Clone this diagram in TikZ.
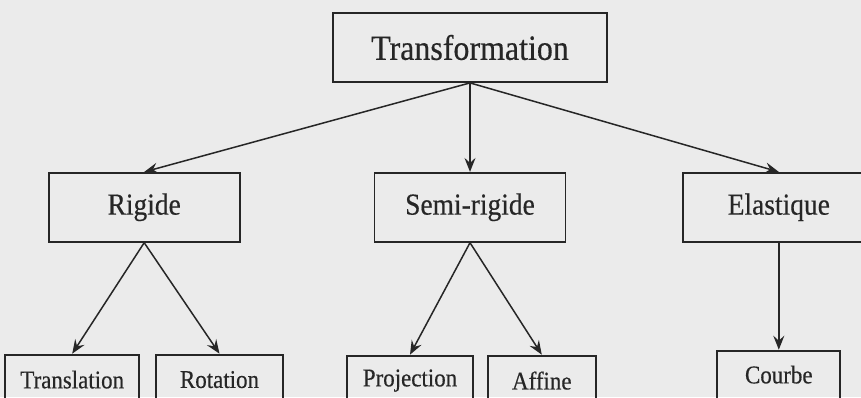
\documentclass[tikz,border=0pt]{standalone}
\usepackage{fontspec}
\setmainfont[FakeStretch=0.9, FakeBold=0.4]{Liberation Serif}
\usetikzlibrary{arrows.meta, positioning}

\begin{document}
\begin{tikzpicture}[
    boite/.style = {rectangle, draw, line width=1.8pt, inner sep=0pt, minimum height=69pt},
    petite/.style = {boite, minimum height=50pt, font=\fontsize{25.5}{28}\selectfont},
    fleche/.style = {black!85, line width=1.5pt, -{Stealth[length=14pt, width=11pt, inset=5pt]}},
    font=\fontsize{30.5}{34}\selectfont,
    text=black!85, draw=black!85
    ]

  \clip (0,0) rectangle (861pt,-397pt);
  \fill[black!8] (0,0) rectangle (861pt,-397pt);

  \node[boite, minimum width=274pt, font=\fontsize{35.5}{40}\selectfont] (trans) at (470pt,-47.5pt) {Transformation} ;

  \node[boite, minimum width=191pt] (semi) [below=89pt of trans] {Semi-rigide} ;
  \node[boite, minimum width=191pt] (rigide) [left=133pt of semi] {Rigide} ;
  \node[boite, minimum width=191pt] (elast) [right=116pt of semi] {Elastique} ;

  \node[petite, minimum width=134pt] (transl) [below=111pt of rigide, xshift=-72pt] {Translation} ;
  \node[petite, minimum width=127pt] (rot) [right=15pt of transl] {Rotation} ;
  \node[petite, minimum width=126pt] (proj) [below=112pt of semi, xshift=-60pt] {Projection} ;
  \node[petite, minimum width=108pt] (affine) [right=13pt of proj] {Affine} ;
  \node[petite, minimum width=123pt, minimum height=48pt] (courbe) [below=107pt of elast] {Courbe} ;

  \path[fleche]
  (trans.south) edge (rigide.north)
  (trans.south) edge (semi.north)
  (trans.south) edge (elast.north)

  (rigide.south) edge (transl.north)
  (rigide.south) edge (rot.north)

  (semi.south) edge (proj.north)
  (semi.south) edge (affine.north)

  (elast.south) edge (courbe.north);
\end{tikzpicture}
\end{document}
